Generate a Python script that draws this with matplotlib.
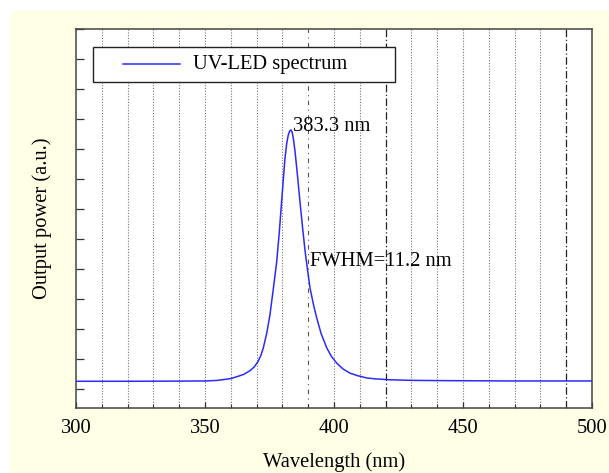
"""
UV-LED 光谱图
"""
import matplotlib.pyplot as plt
import numpy as np
from matplotlib.patches import Rectangle
from matplotlib.ticker import MultipleLocator, NullFormatter

# 曲线数据
wavelength = [300, 320, 340, 350, 355, 360, 363, 365, 367.4, 369, 370.5, 371.7, 372.6,
              374, 375.2, 376.5, 377.8, 378.8, 379.7, 380.4, 381.0, 381.7, 382.3,
              382.8, 383.3, 383.8, 384.3, 384.9, 385.8, 386.8, 387.8, 388.8,
              389.8, 390.7, 392.0, 393.3, 395.0, 397.2, 399.0, 401.0, 403.5,
              406.2, 409.0, 412.7, 416.0, 421.7, 430, 445, 470, 500]
power = [0.135, 0.135, 0.138, 0.14, 0.15, 0.18, 0.22, 0.25, 0.31, 0.37, 0.46, 0.57, 0.69,
         0.95, 1.25, 1.68, 2.13, 2.62, 3.13, 3.52, 3.85, 4.10, 4.24,
         4.30, 4.32, 4.28, 4.16, 3.96, 3.58, 3.13, 2.70, 2.30,
         1.97, 1.69, 1.42, 1.19, 0.93, 0.69, 0.55, 0.44, 0.34,
         0.27, 0.23, 0.19, 0.175, 0.16, 0.15, 0.145, 0.14, 0.14]

grid_x = list(range(310, 500, 10))
dark_grid_x = [420, 490]
dashdot_grid_x = [390]
peak_label = "383.3 nm"
peak_pos = (384.0, 4.38)
fwhm_label = "FWHM=11.2 nm"
fwhm_pos = (390.6, 2.13)

plt.rcParams["font.family"] = ["Liberation Serif", "DejaVu Serif"]
plt.rcParams["font.size"] = 14.8

fig = plt.figure(figsize=(6.09, 4.73), dpi=100, facecolor="white")
# 浅黄色背景
fig.patches.append(Rectangle((10 / 609, 0), 1, 1 - 11 / 473, transform=fig.transFigure,
                             facecolor="#ffffe6", edgecolor="none", zorder=-1))
ax = fig.add_axes([76 / 609, 1 - 408 / 473, 516 / 609, 379 / 473])
ax.set_facecolor("white")

for gx in grid_x:
    if gx in dark_grid_x:
        ax.axvline(gx, color="#222222", lw=0.9, ls=(0, (6, 2, 1, 2)), zorder=1)
    elif gx in dashdot_grid_x:
        ax.axvline(gx, color="#555555", lw=0.8, ls=(0, (4, 4, 1, 4)), zorder=1)
    else:
        ax.axvline(gx, color="#777777", lw=0.8, ls=(0, (1, 1.5)), zorder=1)

ax.plot(wavelength, power, color="#2a2aff", lw=1.1, zorder=3)

ax.set_xlim(300, 500)
ax.set_ylim(-0.31, 6.0)
ax.xaxis.set_major_locator(MultipleLocator(50))
ax.xaxis.set_minor_locator(MultipleLocator(10))
ax.yaxis.set_major_locator(MultipleLocator(1))
ax.yaxis.set_minor_locator(MultipleLocator(0.5))
ax.yaxis.set_major_formatter(NullFormatter())
ax.tick_params(axis="y", which="both", direction="in", left=True, right=False,
               length=6, width=0.9, color="#333333")
ax.tick_params(axis="x", which="major", direction="in", length=4, width=0.9,
               color="#333333", pad=8)
ax.tick_params(axis="x", which="minor", direction="in", length=3, width=0.8,
               color="#333333")
for sp in ax.spines.values():
    sp.set_color("#444444")
    sp.set_linewidth(1.1)

ax.set_xlabel("Wavelength (nm)", labelpad=10)
ax.set_ylabel("Output power (a.u.)", labelpad=14)

ax.text(peak_pos[0], peak_pos[1], peak_label, va="center", ha="left", zorder=4)
ax.text(fwhm_pos[0], fwhm_pos[1], fwhm_label, va="center", ha="left", zorder=4)

# 图例 (手动绘制)
ax.add_patch(Rectangle((0.033, 0.8594), 0.585, 0.0931, transform=ax.transAxes,
                       facecolor="white", edgecolor="#222222", lw=1.0, zorder=5))
ax.plot([0.0911, 0.2016], [0.9069, 0.9069], transform=ax.transAxes,
        color="#2a2aff", lw=1.1, zorder=6)
ax.text(0.2267, 0.9069, "UV-LED spectrum", transform=ax.transAxes,
        va="center", ha="left", zorder=6)

fig.savefig("out.png", dpi=100)
plt.close(fig)
